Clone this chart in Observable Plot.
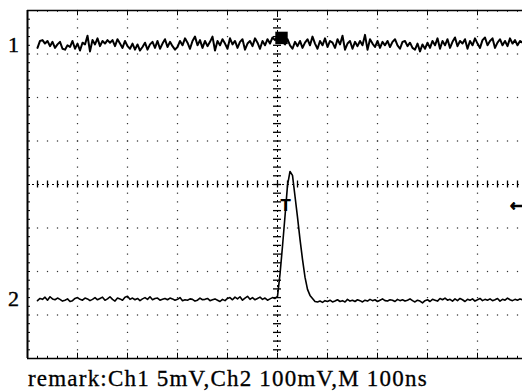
<!DOCTYPE html>
<html><head><meta charset="utf-8">
<script src="https://cdn.jsdelivr.net/npm/d3@7"></script>
<script src="https://cdn.jsdelivr.net/npm/@observablehq/plot@0.6"></script>
<style>
body{margin:0;background:#fff;width:522px;height:391px;overflow:hidden;position:relative}
#chart svg{display:block}
#caption{position:absolute;left:28px;top:367px;font-family:"Liberation Serif","Times New Roman",serif;font-size:23px;letter-spacing:1.2px;line-height:23px;color:#000;white-space:nowrap;-webkit-text-stroke:0.3px #000}
</style></head><body>
<div id="chart"></div>
<div id="caption"></div>
<script>
// --- data ---
const timeStartNs = -480;           // first sample time
const sampleStepNs = 5;             // sample interval
const channelNames = ["1", "2"];
const channelLevelDiv = [3.2, -2.64];    // ground marker of each channel, in divisions
const channelScaleMv = [5, 100];         // mV per division
const timeScaleNs = 100;                 // ns per division
const captionText = "remark:Ch1 5mV,Ch2 100mV,M 100ns";
const triggerTimeNs = 8;
const triggerLevelMv = 215;

// Ch1 (mV), noise only
const ch1Mv = [
  -0.3, 0.5, 0.6, 0.2, 0.5, -0.1, 0.4, -0.3, 0.1, 0.4,
  -0.4, -0.5, 0.0, -0.2, 0.5, -0.4, 0.2, -0.6, 0.3, 0.1,
  1.1, -0.7, 0.6, 0.1, 0.8, -0.1, 0.5, 0.2, 0.6, 0.3,
  0.6, -0.1, 0.7, 0.2, -0.3, 0.5, -0.1, -0.4, 0.2, -0.5,
  0.1, -0.6, -0.2, 0.3, -0.5, 0.1, 0.4, -0.3, 0.5, -0.4,
  0.2, 0.7, -0.2, 0.4, -0.1, -0.5, -0.2, 0.5, 0.0, 0.8,
  0.3, -0.4, 0.5, 1.0, 0.0, 0.6, -0.3, 0.5, -0.1, 0.4,
  1.0, -0.6, 0.5, 0.0, 0.7, 0.2, -0.4, 0.8, 0.1, 0.5,
  -0.3, 0.4, 0.7, -0.5, 0.2, 0.5, -0.1, 0.8, 0.3, -0.4,
  0.5, 0.0, 0.7, 0.2, 0.9, 0.6, 1.0, 0.5, 0.4, 0.1,
  0.7, 0.0, -0.4, 0.4, -0.1, 0.5, -0.3, 0.3, 0.7, 0.0,
  1.0, 0.2, -0.4, 0.5, 0.0, 0.8, -0.2, 0.5, 0.3, -0.3,
  0.7, 0.1, 1.1, -0.5, 0.2, 0.5, -0.4, 0.4, -0.1, 0.5,
  0.0, 1.2, -0.5, 0.7, 0.2, -0.2, 0.5, -0.3, 0.4, 0.0,
  0.5, -0.2, 0.4, 0.7, 0.0, -0.4, 0.4, 0.5, -0.1, 0.3,
  -0.3, -0.5, 0.2, -0.7, 0.1, -0.4, 0.3, -0.3, 0.5, 0.0,
  0.8, -0.4, 0.5, 0.0, 0.7, -0.3, 0.4, 0.9, -0.1, 0.5,
  0.2, 0.7, -0.4, 0.5, 0.0, 0.8, 0.2, -0.3, 0.6, 0.9,
  0.0, 0.5, 0.8, -0.3, 0.3, 0.7, 0.0, 0.5, -0.1, 0.8,
  0.2, 0.6, 0.0, 0.5, 0.3
];

// Ch2 (mV), baseline noise + pulse
const ch2Mv = [
  -3, 2, 0, 5, -2, 6, 1, -1, 3, 0,
  -4, -2, 1, -5, -3, 2, 4, 0, -2, 3,
  1, -3, 0, 4, -1, 2, 5, -2, 1, 6,
  0, -4, 3, 1, -2, 5, 7, 0, 3, -1,
  2, -3, 1, 4, 0, 6, -1, 2, 3, -2,
  0, 2, -1, 3, 1, -2, 0, 4, -3, -1,
  -2, 1, 0, -4, -2, 3, -1, 0, 2, -3,
  -1, 1, -2, -5, 0, -3, 2, 4, -1, 5,
  1, 6, -2, 3, 7, 0, 4, -1, 2, 5,
  0, 3, -2, 1, 4, 2,
  7, 58, 122, 191, 262, 294, 285, 237, 189, 138, 92, 51, 23, 9, 2, -5,
  -6, -4, -7, -3, -5, -2, -6, -4, -1, -5,
  -3, -6, 0, -4, -2, -5, -1, -3, -6, -2,
  -4, 0, -3, -1, -5, -2, 1, -3, -4, -1,
  -2, -5, 0, -3, -1, -4, -2, 1, -3, -6,
  -2, -4, -8, -3, -1, -5, 0, -2, -4, 2,
  -1, 3, -2, 0, -4, 1, -3, 2, -1, -5,
  0, -2, 1, -4, -1, 2, -3, 0, -2, 1,
  -3, -1, 2, -4, 0, -2, 3, -1, -3, 0,
  -2, 1, -1
];

// --- graticule helpers (screen layout, in divisions) ---
const r1 = v => Math.round(v * 10) / 10;
const divX = d3.range(-5, 5.001, 1).map(r1);
const divY = d3.range(-4, 4.001, 1).map(r1);
const minorX = d3.range(-5, 5.001, 0.2).map(r1);
const minorY = d3.range(-4, 4.001, 0.2).map(r1);
const ns = d => d * timeScaleNs;

const gridPts = [];
for (const y of divY) if (y !== 0 && Math.abs(y) !== 4) for (const x of minorX) gridPts.push({x: ns(x), y});
for (const x of divX) if (x !== 0 && Math.abs(x) !== 5) for (const y of minorY) gridPts.push({x: ns(x), y});

const t = i => timeStartNs + i * sampleStepNs;
const ch1 = ch1Mv.map((v, i) => ({t: t(i), y: channelLevelDiv[0] + v / channelScaleMv[0]}));
const ch2 = ch2Mv.map((v, i) => ({t: t(i), y: channelLevelDiv[1] + v / channelScaleMv[1]}));
const trigY = channelLevelDiv[1] + triggerLevelMv / channelScaleMv[1];

const chart = Plot.plot({
  width: 522, height: 362,
  marginLeft: 27, marginRight: 0, marginTop: 10, marginBottom: 4,
  x: {domain: [-500, 490], axis: null},
  y: {domain: [-4, 4], axis: null},
  style: {background: "#fff", overflow: "visible"},
  marks: [
    Plot.dot(gridPts, {x: "x", y: "y", r: 0.7, fill: "#333", symbol: "square"}),
    // centre cross
    Plot.ruleY([0], {stroke: "#000", strokeWidth: 1, strokeDasharray: "2,3"}),
    Plot.ruleX([0], {stroke: "#000", strokeWidth: 1, strokeDasharray: "2,3"}),
    Plot.ruleX(minorX.filter(x => x > -5), {x: d => ns(d), y1: -0.08, y2: 0.08, stroke: "#000", strokeWidth: 1.3}),
    Plot.ruleY(minorY.filter(y => y > -4 && y < 4), {y: d => d, x1: -8, x2: 8, stroke: "#000", strokeWidth: 1.3}),
    // border ticks
    Plot.ruleY(minorY, {y: d => d, x1: -500, x2: -494, stroke: "#000", strokeWidth: 1}),
    Plot.ruleX(minorX, {x: d => ns(d), y1: -4, y2: d => Number.isInteger(d) ? -3.88 : -3.95, stroke: "#000", strokeWidth: 1}),
    Plot.ruleX(minorX, {x: d => ns(d), y1: 4, y2: d => Number.isInteger(d) ? 3.88 : 3.96, stroke: "#000", strokeWidth: 1}),
    // frame
    Plot.ruleY([4, -4], {stroke: "#000", strokeWidth: 1.6}),
    Plot.ruleX([-500], {stroke: "#000", strokeWidth: 2}),
    // traces
    Plot.line(ch1, {x: "t", y: "y", stroke: "#000", strokeWidth: 2}),
    Plot.line(ch2, {x: "t", y: "y", stroke: "#000", strokeWidth: 1.6}),
    // trigger markers
    Plot.dot([triggerTimeNs], {x: d => d, y: 3.37, r: 7, symbol: "square", fill: "#000"}),
    Plot.text(["T"], {x: 16, y: trigY, text: d => d, fontSize: 15, fontWeight: "bold", fontFamily: "DejaVu Sans", fill: "#000"}),
    Plot.text(["\u2190"], {x: 490, y: trigY, dx: -6, text: d => d, fontSize: 16, fontWeight: "bold", fontFamily: "DejaVu Sans", fill: "#000", stroke: "#000", strokeWidth: 0.8}),
    // channel markers
    Plot.text(channelNames, {x: -500, y: (d, i) => channelLevelDiv[i], dx: -14, text: d => d, fontSize: 22, fontFamily: "Liberation Serif", fill: "#000", stroke: "#000", strokeWidth: 0.4, textAnchor: "middle"})
  ]
});
document.getElementById("chart").appendChild(chart);
document.getElementById("caption").textContent = captionText;
</script>
</body></html>
